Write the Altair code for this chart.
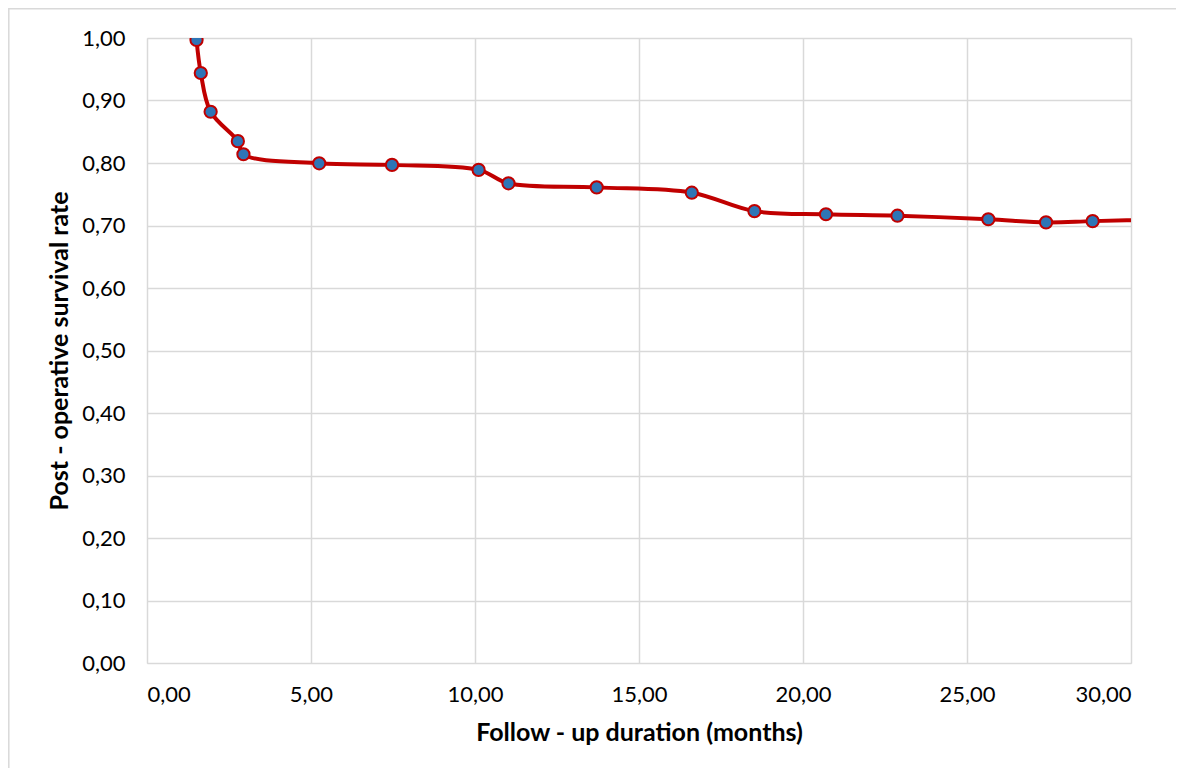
import altair as alt
import pandas as pd

months = [1.51, 1.64, 1.94, 2.77, 2.94, 5.25, 7.47, 10.11, 11.02, 13.71, 16.61,
          18.52, 20.70, 22.88, 25.65, 27.41, 28.83, 31.2]
survival = [0.997, 0.944, 0.882, 0.835, 0.814, 0.7995, 0.797, 0.789, 0.7675, 0.761,
            0.7525, 0.723, 0.718, 0.7157, 0.710, 0.705, 0.707, 0.710]

x_ticks = [0, 5, 10, 15, 20, 25, 30]
y_ticks = [0, 0.1, 0.2, 0.3, 0.4, 0.5, 0.6, 0.7, 0.8, 0.9, 1.0]

df = pd.DataFrame({"months": months, "survival": survival})

FONT = "Lato"
label_expr = "replace(format(datum.value, '.2f'), '.', ',')"

x_enc = alt.X(
    "months:Q",
    scale=alt.Scale(domain=[0, 30], nice=False, zero=False),
    axis=alt.Axis(
        values=x_ticks, labelExpr=label_expr, title="Follow - up duration (months)",
        grid=True, gridColor="#D9D9D9", gridWidth=1.5, domain=False, ticks=False,
        labelFont=FONT, labelFontSize=22, labelColor="#000000", labelPadding=21,
        titleFont=FONT, titleFontSize=25, titleFontWeight="bold", titleColor="#000000",
        titlePadding=15,
    ),
)
y_enc = alt.Y(
    "survival:Q",
    scale=alt.Scale(domain=[0, 1], nice=False),
    axis=alt.Axis(
        values=y_ticks, labelExpr=label_expr, title="Post - operative survival rate",
        grid=True, gridColor="#D9D9D9", gridWidth=1.5, domain=False, ticks=False,
        labelFont=FONT, labelFontSize=22, labelColor="#000000", labelPadding=22,
        titleFont=FONT, titleFontSize=25, titleFontWeight="bold", titleColor="#000000",
        titlePadding=9,
    ),
)

border = alt.Chart(pd.DataFrame({"a": [0]})).mark_rect(
    fill=None, stroke="#D9D9D9", strokeWidth=1.5
).encode(
    x=alt.value(-138.2), x2=alt.value(1200), y=alt.value(-29.2), y2=alt.value(900)
)

line = alt.Chart(df).mark_line(
    color="#C00000", strokeWidth=4, interpolate="catmull-rom", clip=True
).encode(x=x_enc, y=y_enc)

points = alt.Chart(df).mark_point(
    shape="circle", filled=True, fill="#2E75B6", stroke="#C00000", strokeWidth=2,
    size=150, opacity=1, clip=True
).encode(x="months:Q", y="survival:Q")

chart = alt.layer(border, line, points).properties(
    width=984, height=625,
    autosize=alt.AutoSizeParams(type="none"),
    padding={"left": 139, "top": 30, "right": 45, "bottom": 105},
).configure_view(stroke=None).configure(background="white")

chart.save("out.html", embed_options={"renderer": "svg", "actions": False})
